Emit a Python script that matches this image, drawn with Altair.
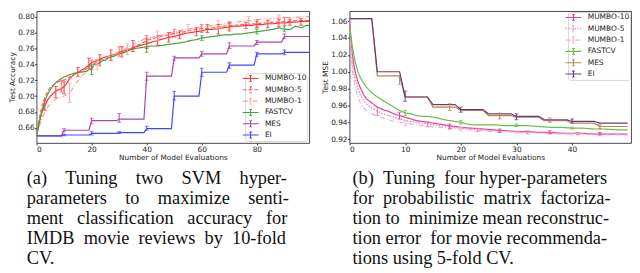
import altair as alt
import pandas as pd

methods = ["MUMBO-10", "MUMBO-5", "MUMBO-1", "FASTCV", "MES", "EI"]

# ---------------- Panel (a): SVM test accuracy ----------------
a_m10_x = [0, 1, 2, 3, 4, 5, 6, 7, 8, 9, 10, 11, 12, 14, 16, 18, 20, 22, 24, 26, 28, 30, 32, 34, 36, 38, 40, 42, 44,
           46, 48, 50, 52, 54, 56, 58, 60, 62, 64, 66, 68, 70, 72, 74, 76, 78, 80, 82, 84, 86, 88, 90, 92, 94, 96, 98, 99]
a_m10_y = [0.650, 0.668, 0.680, 0.688, 0.695, 0.700, 0.703, 0.706, 0.708, 0.709, 0.712, 0.716, 0.722, 0.728, 0.732,
           0.736, 0.742, 0.745, 0.748, 0.750, 0.752, 0.755, 0.757, 0.759, 0.762, 0.764, 0.766, 0.768, 0.770, 0.772,
           0.774, 0.775, 0.777, 0.779, 0.780, 0.781, 0.782, 0.784, 0.784, 0.785, 0.786, 0.787, 0.788, 0.788, 0.789,
           0.789, 0.790, 0.790, 0.791, 0.791, 0.792, 0.792, 0.793, 0.793, 0.794, 0.794, 0.794]
a_m5_x = [0, 1, 2, 3, 4, 5, 6, 8, 10, 12, 14, 16, 18, 20, 22, 24, 26, 28, 30, 32, 34, 36, 38, 40, 42, 44, 46, 48, 50,
          52, 54, 56, 58, 60, 62, 64, 66, 68, 70, 72, 74, 76, 78, 80, 82, 84, 86, 88, 90, 92, 94, 96, 98, 99]
a_m5_y = [0.650, 0.672, 0.688, 0.698, 0.706, 0.711, 0.714, 0.718, 0.720, 0.724, 0.728, 0.731, 0.734, 0.739, 0.743,
          0.747, 0.750, 0.752, 0.755, 0.757, 0.760, 0.763, 0.766, 0.770, 0.772, 0.774, 0.776, 0.777, 0.779, 0.780,
          0.781, 0.783, 0.784, 0.785, 0.785, 0.786, 0.787, 0.788, 0.789, 0.789, 0.790, 0.790, 0.791, 0.791, 0.792,
          0.792, 0.793, 0.793, 0.794, 0.794, 0.795, 0.795, 0.795, 0.795]
a_m1_x = [0, 1, 2, 3, 4, 5, 6, 8, 10, 12, 14, 16, 18, 20, 22, 24, 26, 28, 30, 32, 34, 36, 38, 40, 42, 44, 46, 48, 50,
          52, 54, 56, 58, 60, 62, 64, 66, 68, 70, 72, 74, 76, 78, 80, 82, 84, 86, 88, 90, 92, 94, 96, 98, 99]
a_m1_y = [0.650, 0.662, 0.672, 0.680, 0.686, 0.690, 0.694, 0.698, 0.700, 0.704, 0.714, 0.724, 0.730, 0.734, 0.740,
          0.745, 0.749, 0.752, 0.756, 0.759, 0.763, 0.767, 0.770, 0.773, 0.774, 0.776, 0.777, 0.779, 0.781, 0.782,
          0.784, 0.785, 0.786, 0.787, 0.788, 0.789, 0.790, 0.791, 0.792, 0.793, 0.794, 0.795, 0.795, 0.796, 0.797,
          0.797, 0.798, 0.798, 0.799, 0.799, 0.799, 0.800, 0.800, 0.800]
a_fast_x = [0, 1, 2, 3, 4, 5, 6, 7, 8, 10, 12, 14, 16, 18, 19, 20, 21, 22, 23, 24, 25, 26, 28, 30, 32, 34, 36, 38, 40,
            42, 44, 46, 48, 50, 52, 54, 56, 58, 60, 62, 64, 66, 68, 70, 72, 74, 76, 78, 80, 82, 84, 86, 88, 90, 92,
            94, 96, 98, 99]
a_fast_y = [0.650, 0.666, 0.682, 0.694, 0.702, 0.708, 0.713, 0.717, 0.720, 0.724, 0.727, 0.729, 0.730, 0.731, 0.733,
            0.735, 0.740, 0.740, 0.742, 0.745, 0.745, 0.748, 0.750, 0.753, 0.755, 0.758, 0.760, 0.761, 0.762, 0.763,
            0.763, 0.764, 0.765, 0.766, 0.767, 0.768, 0.770, 0.771, 0.773, 0.774, 0.775, 0.776, 0.777, 0.777, 0.778,
            0.778, 0.779, 0.780, 0.781, 0.782, 0.783, 0.784, 0.786, 0.784, 0.784, 0.788, 0.786, 0.789, 0.789]
a_mes_x = [0, 9, 10, 19, 20, 29, 30, 39, 40, 49, 50, 59, 60, 69, 70, 79, 80, 89, 90, 99]
a_mes_y = [0.650, 0.650, 0.657, 0.657, 0.669, 0.669, 0.671, 0.671, 0.725, 0.725, 0.748, 0.748, 0.753, 0.753,
           0.763, 0.763, 0.768, 0.768, 0.775, 0.775]
a_ei_x = [0, 9, 10, 19, 20, 29, 30, 39, 40, 49, 50, 59, 60, 69, 70, 79, 80, 89, 90, 99]
a_ei_y = [0.650, 0.650, 0.651, 0.651, 0.653, 0.653, 0.654, 0.654, 0.659, 0.659, 0.700, 0.700, 0.730, 0.730,
          0.739, 0.739, 0.753, 0.753, 0.755, 0.755]

# error bars (x, low, high)
a_m10_ex = [3, 7, 10, 15, 19, 23, 27, 31, 35, 40, 44, 48, 52, 58, 62, 66, 70, 76, 80, 84, 88, 92, 96]
a_m10_lo = [0.682, 0.698, 0.703, 0.725, 0.735, 0.738, 0.745, 0.749, 0.756, 0.760, 0.764, 0.768, 0.772, 0.776,
            0.780, 0.778, 0.782, 0.785, 0.786, 0.786, 0.788, 0.789, 0.789]
a_m10_hi = [0.694, 0.712, 0.718, 0.736, 0.748, 0.752, 0.758, 0.762, 0.770, 0.772, 0.776, 0.780, 0.782, 0.786,
            0.790, 0.790, 0.792, 0.793, 0.794, 0.795, 0.796, 0.797, 0.798]
a_m5_ex = [9, 20, 30, 40, 50, 60, 70, 80, 90]
a_m5_lo = [0.705, 0.733, 0.750, 0.762, 0.774, 0.780, 0.784, 0.786, 0.789]
a_m5_hi = [0.720, 0.745, 0.762, 0.776, 0.784, 0.790, 0.794, 0.796, 0.799]
a_m1_ex = [12, 22, 33, 44, 55, 66, 77, 88]
a_m1_lo = [0.692, 0.733, 0.752, 0.770, 0.779, 0.785, 0.790, 0.794]
a_m1_hi = [0.716, 0.746, 0.766, 0.782, 0.790, 0.795, 0.800, 0.802]
a_fast_ex = [20, 40, 60, 80, 90]
a_fast_lo = [0.727, 0.755, 0.770, 0.778, 0.781]
a_fast_hi = [0.740, 0.768, 0.776, 0.784, 0.788]
a_mes_ex = [10, 20, 30, 40, 50, 60, 70, 80, 90]
a_mes_lo = [0.655, 0.665, 0.667, 0.720, 0.745, 0.750, 0.760, 0.765, 0.772]
a_mes_hi = [0.659, 0.672, 0.678, 0.730, 0.750, 0.756, 0.767, 0.770, 0.778]
a_ei_ex = [10, 20, 30, 40, 50, 60, 70, 80, 90]
a_ei_lo = [0.650, 0.651, 0.653, 0.657, 0.695, 0.725, 0.735, 0.750, 0.752]
a_ei_hi = [0.652, 0.655, 0.655, 0.662, 0.706, 0.735, 0.742, 0.755, 0.758]

# ---------------- Panel (b): PMF test MSE ----------------
b_m10_x = [0, 0.5, 1, 1.5, 2, 2.5, 3, 4, 5, 6, 7, 8, 9, 10, 11, 12, 13, 14, 15, 16, 17, 18, 19, 20, 22, 24, 26, 28,
           30, 32, 34, 36, 38, 40, 42, 44, 46, 48, 50]
b_m10_y = [1.060, 1.020, 1.000, 0.988, 0.980, 0.973, 0.968, 0.963, 0.958, 0.955, 0.953, 0.950, 0.948, 0.946,
           0.944, 0.942, 0.941, 0.940, 0.939, 0.938, 0.937, 0.936, 0.935, 0.934, 0.933, 0.932, 0.931, 0.930,
           0.929, 0.929, 0.928, 0.928, 0.927, 0.927, 0.927, 0.926, 0.926, 0.926, 0.926]
b_m5_x = [0, 0.5, 1, 1.5, 2, 2.5, 3, 4, 5, 6, 7, 8, 9, 10, 12, 14, 16, 18, 20, 22, 24, 26, 28, 30, 32, 34, 36, 38,
          40, 42, 44, 46, 48, 50]
b_m5_y = [1.060, 1.010, 0.992, 0.980, 0.972, 0.966, 0.962, 0.957, 0.953, 0.950, 0.948, 0.946, 0.944, 0.942,
          0.940, 0.938, 0.936, 0.935, 0.933, 0.932, 0.931, 0.930, 0.930, 0.929, 0.928, 0.928, 0.927, 0.927,
          0.927, 0.926, 0.926, 0.926, 0.926, 0.925]
b_m1_x = [0, 0.5, 1, 1.5, 2, 2.5, 3, 4, 5, 6, 7, 8, 9, 10, 12, 14, 16, 18, 20, 22, 24, 26, 28, 30, 32, 34, 36, 38,
          40, 42, 44, 46, 48, 50]
b_m1_y = [1.060, 1.000, 0.982, 0.970, 0.962, 0.957, 0.954, 0.950, 0.947, 0.945, 0.943, 0.941, 0.940, 0.939,
          0.937, 0.935, 0.934, 0.933, 0.932, 0.931, 0.930, 0.929, 0.929, 0.928, 0.928, 0.927, 0.927, 0.926,
          0.926, 0.926, 0.925, 0.925, 0.925, 0.925]
b_fast_x = [0, 0.5, 1, 1.5, 2, 3, 4, 5, 6, 7, 8, 9, 10, 11, 12, 13, 14, 15, 16, 17, 18, 19, 20, 21, 22, 24, 26, 28,
            30, 32, 34, 36, 38, 40, 42, 44, 46, 48, 50]
b_fast_y = [1.055, 1.030, 1.012, 1.000, 0.992, 0.982, 0.975, 0.970, 0.966, 0.962, 0.958, 0.954, 0.951, 0.950,
            0.948, 0.947, 0.947, 0.946, 0.945, 0.943, 0.942, 0.941, 0.940, 0.938, 0.937, 0.937, 0.937, 0.936,
            0.936, 0.936, 0.935, 0.934, 0.934, 0.933, 0.933, 0.932, 0.932, 0.931, 0.931]
b_mes_x = [0, 4, 5, 9, 10, 14, 15, 19, 20, 24, 25, 29, 30, 34, 35, 39, 40, 44, 45, 50]
b_mes_y = [1.063, 1.063, 0.995, 0.995, 0.970, 0.970, 0.958, 0.958, 0.954, 0.954, 0.948, 0.948, 0.946, 0.946,
           0.942, 0.942, 0.939, 0.939, 0.935, 0.935]
b_ei_x = [0, 4, 5, 9, 10, 14, 15, 19, 20, 24, 25, 29, 30, 34, 35, 39, 40, 44, 45, 50]
b_ei_y = [1.063, 1.063, 1.000, 1.000, 0.970, 0.970, 0.961, 0.961, 0.955, 0.955, 0.950, 0.950, 0.947, 0.947,
          0.943, 0.943, 0.941, 0.941, 0.939, 0.939]

b_m10_ex = [9, 18, 27, 36, 45]
b_m10_lo = [0.944, 0.932, 0.928, 0.926, 0.925]
b_m10_hi = [0.952, 0.938, 0.932, 0.930, 0.928]
b_m5_ex = [5, 14, 23, 32, 41]
b_m5_lo = [0.948, 0.935, 0.929, 0.926, 0.925]
b_m5_hi = [0.958, 0.941, 0.933, 0.930, 0.928]
b_m1_ex = [10, 20, 30, 40]
b_m1_lo = [0.936, 0.930, 0.927, 0.925]
b_m1_hi = [0.942, 0.934, 0.930, 0.927]
b_fast_ex = [10, 20, 30, 40]
b_fast_lo = [0.948, 0.938, 0.935, 0.932]
b_fast_hi = [0.954, 0.942, 0.938, 0.934]
b_mes_ex = [9, 18, 27, 36, 45]
b_mes_lo = [0.985, 0.954, 0.944, 0.940, 0.932]
b_mes_hi = [0.993, 0.962, 0.951, 0.945, 0.937]
b_ei_ex = [10, 20, 30, 40]
b_ei_lo = [0.965, 0.952, 0.943, 0.939]
b_ei_hi = [0.977, 0.958, 0.950, 0.944]

a_colors = ["#ff3030", "#ff6060", "#ffa0a0", "#3fa43f", "#aa44aa", "#4545ff"]
b_colors = ["#e0409a", "#e87ab8", "#f2b0d2", "#6cbc48", "#b8864e", "#6b3a78"]
a_dash = [[1, 0], [4, 2], [5, 2, 1, 2], [1, 0], [1, 0], [1, 0]]
b_dash = [[1, 0], [1.5, 1.5], [5, 2, 1, 2], [1, 0], [1, 0], [1, 0]]

S = "\u00a0"
cap_a = ["(a)" + S * 4 + "Tuning" + S * 4 + "two" + S * 4 + "SVM" + S * 4 + "hyper-",
         "parameters" + S * 4 + "to" + S * 4 + "maximize" + S * 4 + "senti-",
         "ment" + S * 3 + "classification" + S * 3 + "accuracy" + S * 3 + "for",
         "IMDB" + S * 2 + "movie" + S * 2 + "reviews" + S * 2 + "by" + S * 2 + "10-fold",
         "CV."]
cap_b = ["(b)" + S * 2 + "Tuning" + S * 2 + "four" + S + "hyper-parameters",
         "for" + S * 2 + "probabilistic" + S * 2 + "matrix" + S * 2 + "factoriza-",
         "tion" + S + "to" + S * 2 + "minimize" + S + "mean" + S + "reconstruc-",
         "tion" + S + "error" + S * 2 + "for" + S + "movie" + S + "recommenda-",
         "tions using 5-fold CV."]


def lines_df(xs_list, ys_list):
    rows = []
    for m, xs, ys in zip(methods, xs_list, ys_list):
        for i, (x, y) in enumerate(zip(xs, ys)):
            rows.append({"method": m, "x": x, "y": y, "i": i})
    return pd.DataFrame(rows)


def err_df(ex_list, lo_list, hi_list):
    rows = []
    for m, xs, los, his in zip(methods, ex_list, lo_list, hi_list):
        for x, lo, hi in zip(xs, los, his):
            rows.append({"method": m, "x": x, "lo": lo, "hi": hi})
    return pd.DataFrame(rows)


def panel(ldf, edf, colors, dashes, xdom, xticks, ydom, yticks, ytitle, legend_orient, legend_offset,
          width, height, caption, cap_dx):
    leg = alt.Legend(title=None, orient=legend_orient, offset=legend_offset,
                     symbolType="M-1.75,0L1.75,0M0,-0.65L0,0.65M-0.28,-0.65L0.28,-0.65M-0.28,0.65L0.28,0.65",
                     symbolSize=85, symbolStrokeWidth=1.1,
                     labelFont="DejaVu Sans", labelFontSize=7.6, labelColor="#222",
                     fillColor="white", strokeColor="#d8d8d8", padding=0, rowPadding=0.5,
                     cornerRadius=2, labelOffset=9, symbolOffset=0)
    cscale = alt.Scale(domain=methods, range=colors)
    dscale = alt.Scale(domain=methods, range=dashes)
    xaxis = alt.Axis(values=xticks, title="Number of Model Evaluations", format="d")
    yaxis = alt.Axis(values=yticks, title=ytitle, format=".2f")
    xs = alt.Scale(domain=xdom, nice=False)
    ys = alt.Scale(domain=ydom, nice=False, zero=False)
    lines = alt.Chart(ldf).mark_line(strokeWidth=1.2, clip=True).encode(
        x=alt.X("x:Q", scale=xs, axis=xaxis),
        y=alt.Y("y:Q", scale=ys, axis=yaxis),
        color=alt.Color("method:N", scale=cscale, legend=leg, sort=methods),
        strokeDash=alt.StrokeDash("method:N", scale=dscale, legend=leg, sort=methods),
        order="i:Q",
    )
    base_e = alt.Chart(edf)
    ecol = alt.Color("method:N", scale=cscale, legend=None)
    ex = alt.X("x:Q", scale=xs, axis=xaxis)
    rules = base_e.mark_rule(strokeWidth=1, clip=True).encode(
        x=ex, y=alt.Y("lo:Q", scale=ys, axis=yaxis), y2="hi:Q", color=ecol)
    cap_lo = base_e.mark_tick(orient="horizontal", size=4, thickness=1, clip=True).encode(
        x=ex, y=alt.Y("lo:Q", scale=ys, axis=yaxis), color=ecol)
    cap_hi = base_e.mark_tick(orient="horizontal", size=4, thickness=1, clip=True).encode(
        x=ex, y=alt.Y("hi:Q", scale=ys, axis=yaxis), color=ecol)
    return alt.layer(lines, rules, cap_lo, cap_hi).properties(
        width=width, height=height,
        title=alt.TitleParams(text=caption, orient="bottom", anchor="start", frame="group",
                              font="Liberation Serif", fontSize=18.6, fontWeight="normal", color="#111",
                              lineHeight=20.3, offset=8, dx=cap_dx),
    )


ldf_a = lines_df([a_m10_x, a_m5_x, a_m1_x, a_fast_x, a_mes_x, a_ei_x],
                 [a_m10_y, a_m5_y, a_m1_y, a_fast_y, a_mes_y, a_ei_y])
edf_a = err_df([a_m10_ex, a_m5_ex, a_m1_ex, a_fast_ex, a_mes_ex, a_ei_ex],
               [a_m10_lo, a_m5_lo, a_m1_lo, a_fast_lo, a_mes_lo, a_ei_lo],
               [a_m10_hi, a_m5_hi, a_m1_hi, a_fast_hi, a_mes_hi, a_ei_hi])
ldf_b = lines_df([b_m10_x, b_m5_x, b_m1_x, b_fast_x, b_mes_x, b_ei_x],
                 [b_m10_y, b_m5_y, b_m1_y, b_fast_y, b_mes_y, b_ei_y])
edf_b = err_df([b_m10_ex, b_m5_ex, b_m1_ex, b_fast_ex, b_mes_ex, b_ei_ex],
               [b_m10_lo, b_m5_lo, b_m1_lo, b_fast_lo, b_mes_lo, b_ei_lo],
               [b_m10_hi, b_m5_hi, b_m1_hi, b_fast_hi, b_mes_hi, b_ei_hi])

pa = panel(ldf_a, edf_a, a_colors, a_dash, [0, 99], [0, 20, 40, 60, 80], [0.641, 0.807],
           [0.66, 0.68, 0.70, 0.72, 0.74, 0.76, 0.78, 0.80], "Test Accuracy", "bottom-right", 2,
           277, 134, cap_a, -10)
pb = panel(ldf_b, edf_b, b_colors, b_dash, [0, 50.6], [0, 10, 20, 30, 40], [0.9155, 1.072],
           [0.92, 0.94, 0.96, 0.98, 1.00, 1.02, 1.04, 1.06], "Test MSE", "top-right", 1,
           286, 134, cap_b, 3)

chart = alt.hconcat(pa, pb, spacing=11).resolve_scale(
    color="independent", strokeDash="independent"
).resolve_legend(color="independent", strokeDash="independent").configure(
    padding=0, background="white"
).configure_view(stroke="#333", strokeWidth=0.9).configure_axis(
    domain=False, grid=False, labelFont="DejaVu Sans", labelFontSize=7.5, labelColor="#222",
    titleFont="DejaVu Sans", titleFontSize=7.5, titleFontWeight="normal", titleColor="#222",
    tickColor="#333", tickSize=2, labelPadding=0.5, titlePadding=1, labelOverlap=False
)

chart.save("out.html", embed_options={"renderer": "svg", "actions": False})
